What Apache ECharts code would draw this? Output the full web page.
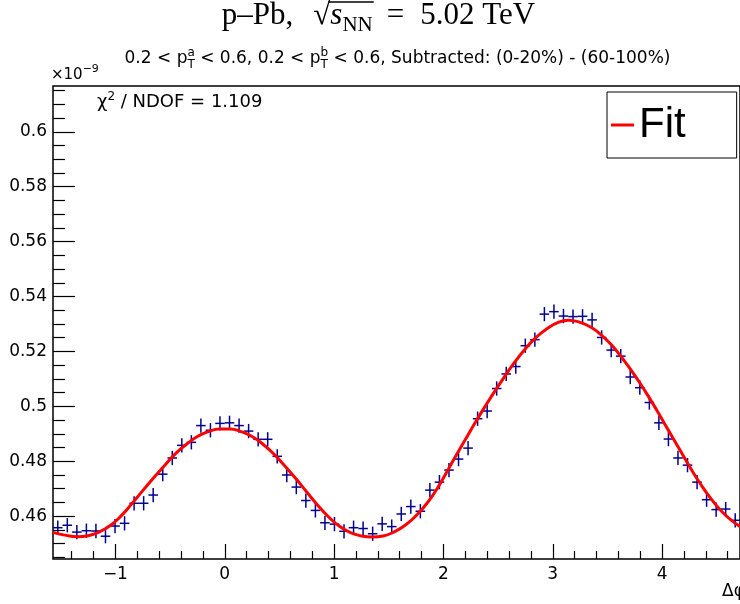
<!DOCTYPE html>
<html><head><meta charset="utf-8">
<script src="https://cdn.jsdelivr.net/npm/echarts@6/dist/echarts.min.js"></script>
<style>html,body{margin:0;padding:0;background:#fff}#c{width:740px;height:604px}</style>
</head><body><div id="c"></div>
<script>
// ---------- data ----------
const xMin = -Math.PI / 2, xMax = 3 * Math.PI / 2;
const yMin = 0.4444, yMax = 0.6167;
const nBins = 72;
const counts = [
  0.4558, 0.4567, 0.4542, 0.4547, 0.4546, 0.4527, 0.4564, 0.4574, 0.4647, 0.4647,
  0.4677, 0.4753, 0.4812, 0.4858, 0.4869, 0.4930, 0.4913, 0.4938, 0.4940, 0.4930,
  0.4910, 0.4880, 0.4880, 0.4818, 0.4750, 0.4706, 0.4657, 0.4621, 0.4576, 0.4571,
  0.4545, 0.4558, 0.4555, 0.4536, 0.4572, 0.4562, 0.4608, 0.4635, 0.4618, 0.4695,
  0.4724, 0.4768, 0.4808, 0.4848, 0.4955, 0.4983, 0.5065, 0.5118, 0.5145, 0.5221,
  0.5243, 0.5336, 0.5345, 0.5329, 0.5327, 0.5328, 0.5315, 0.5251, 0.5205, 0.5183,
  0.5107, 0.5068, 0.5014, 0.4940, 0.4881, 0.4812, 0.4786, 0.4724, 0.4660, 0.4624,
  0.4626, 0.4585
];
const errHalf = 0.0026;
const fitX = [-1.5708, -1.45, -1.35, -1.25, -1.15, -1.05, -0.95, -0.85, -0.75, -0.65, -0.55, -0.45, -0.35, -0.25, -0.15, -0.05,
  0.05, 0.15, 0.25, 0.35, 0.45, 0.55, 0.65, 0.75, 0.85, 0.95, 1.05, 1.15, 1.25, 1.35, 1.45, 1.55, 1.65, 1.75, 1.85, 1.95,
  2.05, 2.15, 2.25, 2.35, 2.45, 2.55, 2.65, 2.75, 2.85, 2.95, 3.05, 3.14, 3.25, 3.35, 3.45, 3.55, 3.65, 3.75, 3.85, 3.95,
  4.05, 4.15, 4.25, 4.35, 4.45, 4.55, 4.65, 4.712];
const fitY = [0.4541, 0.4530, 0.4525, 0.4529, 0.4542, 0.4565, 0.4600, 0.4645, 0.4693, 0.4740, 0.4785, 0.4828, 0.4862, 0.4890, 0.4908, 0.4918,
  0.4918, 0.4908, 0.4890, 0.4862, 0.4826, 0.4783, 0.4737, 0.4688, 0.4640, 0.4597, 0.4563, 0.4540, 0.4528, 0.4524, 0.4528, 0.4543, 0.4567, 0.4602, 0.4647, 0.4705,
  0.4775, 0.4845, 0.4913, 0.4980, 0.5043, 0.5103, 0.5160, 0.5210, 0.5252, 0.5284, 0.5306, 0.5314, 0.5306, 0.5288, 0.5258, 0.5218, 0.5168, 0.5113, 0.5052, 0.4987,
  0.4918, 0.4850, 0.4782, 0.4718, 0.4662, 0.4615, 0.4580, 0.4562];
const xMajorTicks = [-1, 0, 1, 2, 3, 4];
const xMinorTicks = [-1.4, -1.2, -0.8, -0.6, -0.4, -0.2, 0.2, 0.4, 0.6, 0.8, 1.2, 1.4, 1.6, 1.8, 2.2, 2.4, 2.6, 2.8,
  3.2, 3.4, 3.6, 3.8, 4.2, 4.4, 4.6];
const yMajorTicks = [0.46, 0.48, 0.50, 0.52, 0.54, 0.56, 0.58, 0.60];
const yMinorTicks = [0.445, 0.45, 0.455, 0.465, 0.47, 0.475, 0.485, 0.49, 0.495, 0.505, 0.51, 0.515, 0.525, 0.53, 0.535,
  0.545, 0.55, 0.555, 0.565, 0.57, 0.575, 0.585, 0.59, 0.595, 0.605, 0.61, 0.615];

// ---------- styles ----------
const SANS = "'DejaVu Sans', 'Liberation Sans', Arial, sans-serif";
const LSANS = "'Liberation Sans', Arial, Helvetica, sans-serif";
const SERIF = "'Liberation Serif', 'Times New Roman', serif";
const BLUE = '#00008f';
const RED = '#ff0000';

// ---------- text helper ----------
const mctx = document.createElement('canvas').getContext('2d');
function fontStr(p) { return (p.italic ? 'italic ' : '') + p.size + 'px ' + (p.fam || SANS); }
function measure(t, p) { mctx.font = fontStr(p); return mctx.measureText(t).width; }
function textRun(pieces, opts) {
  const widths = pieces.map(p => p.adv != null ? p.adv :
    (p.stack ? Math.max(...p.stack.map(s => measure(s.t, p))) : measure(p.t, p)));
  const total = widths.reduce((a, b) => a + b, 0);
  let x = opts.cx != null ? opts.cx - total / 2 : opts.x;
  const els = [], marks = {};
  pieces.forEach((p, i) => {
    const items = p.stack ? p.stack : (p.t ? [{ t: p.t, dy: p.dy || 0 }] : []);
    items.forEach(s => {
      els.push({
        type: 'text', x: x, y: opts.baseline + (s.dy || 0) - 0.35 * p.size, z: 100,
        style: { text: s.t, font: fontStr(p), fill: '#000', align: 'left', verticalAlign: 'middle' }
      });
    });
    if (p.mark) marks[p.mark] = { x0: x, x1: x + widths[i] };
    x += widths[i];
  });
  return { els, marks };
}

const TB = 27;
const title = textRun([
  { t: 'p\u2013Pb,', size: 31, fam: SERIF },
  { adv: 20, size: 31 },
  { t: '\u221A', size: 31, fam: SERIF, mark: 'sqrt' },
  { t: 's', size: 31, fam: SERIF, italic: true },
  { t: 'NN', size: 21, fam: SERIF, dy: 6, mark: 'nn' },
  { adv: 14, size: 31 },
  { t: '=', size: 31, fam: SERIF },
  { adv: 16, size: 31 },
  { t: '5.02 TeV', size: 31, fam: SERIF }
], { cx: 378.5, baseline: TB });
const sqrtBar = {
  type: 'line', z: 100,
  shape: { x1: title.marks.sqrt.x1 - 2, y1: TB - 25, x2: title.marks.nn.x1 + 1, y2: TB - 25 },
  style: { stroke: '#000', lineWidth: 1.3 }
};
const subtitle = textRun([
  { t: '0.2 < p', size: 17 },
  { stack: [{ t: 'a', dy: -7 }, { t: 'T', dy: 5 }], size: 12 },
  { t: ' < 0.6, 0.2 < p', size: 17 },
  { stack: [{ t: 'b', dy: -7 }, { t: 'T', dy: 5 }], size: 12 },
  { t: ' < 0.6, Subtracted: (0-20%) - (60-100%)', size: 17 }
], { cx: 397.5, baseline: 64.5 });
const expo = textRun([
  { t: '\u00D710', size: 15 },
  { t: '\u22129', size: 11, dy: -7 }
], { x: 51, baseline: 80 });
const chi = textRun([
  { t: '\u03C7', size: 18 },
  { t: '2', size: 12, dy: -8 },
  { t: ' / NDOF = 1.109', size: 18 }
], { x: 97, baseline: 109 });
const xTitle = textRun([{ t: '\u0394\u03C6 (rad)', size: 17 }], { x: 722, baseline: 598 });

// ---------- chart ----------
const binW = (xMax - xMin) / nBins;
const points = counts.map((v, i) => [xMin + (i + 0.5) * binW, v]);
const fitData = fitX.map((x, i) => [x, fitY[i]]);

const tickStyle = { color: '#000', width: 1.2 };
const chart = echarts.init(document.getElementById('c'), null, { renderer: 'canvas' });
chart.setOption({
  animation: false,
  backgroundColor: '#fff',
  grid: { left: 53, right: -3, top: 86, bottom: 45, show: true, borderColor: '#000', borderWidth: 1.5, backgroundColor: 'transparent' },
  xAxis: [
    { type: 'value', min: xMin, max: xMax, position: 'bottom', axisLine: { show: false, onZero: false }, splitLine: { show: false },
      axisTick: { show: true, inside: true, length: 15, customValues: xMajorTicks, lineStyle: tickStyle },
      axisLabel: { show: true, customValues: xMajorTicks, margin: 7, fontSize: 17, color: '#000', fontFamily: SANS,
        formatter: v => String(v).replace('-', '\u2212') } },
    { type: 'value', min: xMin, max: xMax, position: 'bottom', axisLine: { show: false, onZero: false }, splitLine: { show: false },
      axisTick: { show: true, inside: true, length: 8, customValues: xMinorTicks, lineStyle: tickStyle },
      axisLabel: { show: false } }
  ],
  yAxis: [
    { type: 'value', min: yMin, max: yMax, position: 'left', axisLine: { show: false, onZero: false }, splitLine: { show: false },
      axisTick: { show: true, inside: true, length: 22, customValues: yMajorTicks, lineStyle: tickStyle },
      axisLabel: { show: true, customValues: yMajorTicks, margin: 6, fontSize: 17, color: '#000', fontFamily: SANS,
        formatter: v => String(parseFloat(v.toFixed(3))) } },
    { type: 'value', min: yMin, max: yMax, position: 'left', axisLine: { show: false, onZero: false }, splitLine: { show: false },
      axisTick: { show: true, inside: true, length: 12, customValues: yMinorTicks, lineStyle: tickStyle },
      axisLabel: { show: false } }
  ],
  legend: {
    show: true, data: [{ name: 'Fit', icon: 'rect' }], left: 607, top: 92, orient: 'vertical',
    itemWidth: 23, itemHeight: 3, padding: [12, 51, 12, 4], backgroundColor: '#fff',
    borderColor: '#000', borderWidth: 1, textStyle: { fontSize: 42, color: '#000', fontFamily: LSANS }
  },
  series: [
    {
      type: 'custom', name: 'data', xAxisIndex: 0, yAxisIndex: 0, data: points, z: 2,
      renderItem: (params, api) => {
        const x = api.value(0), y = api.value(1);
        const l = api.coord([x - binW / 2, y]), r = api.coord([x + binW / 2, y]);
        const t = api.coord([x, y + errHalf]), b = api.coord([x, y - errHalf]);
        return { type: 'group', children: [
          { type: 'line', shape: { x1: l[0], y1: l[1], x2: r[0], y2: r[1] }, style: { stroke: BLUE, lineWidth: 1.5 } },
          { type: 'line', shape: { x1: t[0], y1: t[1], x2: b[0], y2: b[1] }, style: { stroke: BLUE, lineWidth: 1.5 } }
        ] };
      }
    },
    {
      type: 'line', name: 'Fit', xAxisIndex: 0, yAxisIndex: 0, data: fitData, smooth: true, showSymbol: false, z: 3,
      lineStyle: { color: RED, width: 3 }, itemStyle: { color: RED }
    }
  ],
  graphic: [].concat(title.els, [sqrtBar], subtitle.els, expo.els, chi.els, xTitle.els)
});
</script></body></html>
